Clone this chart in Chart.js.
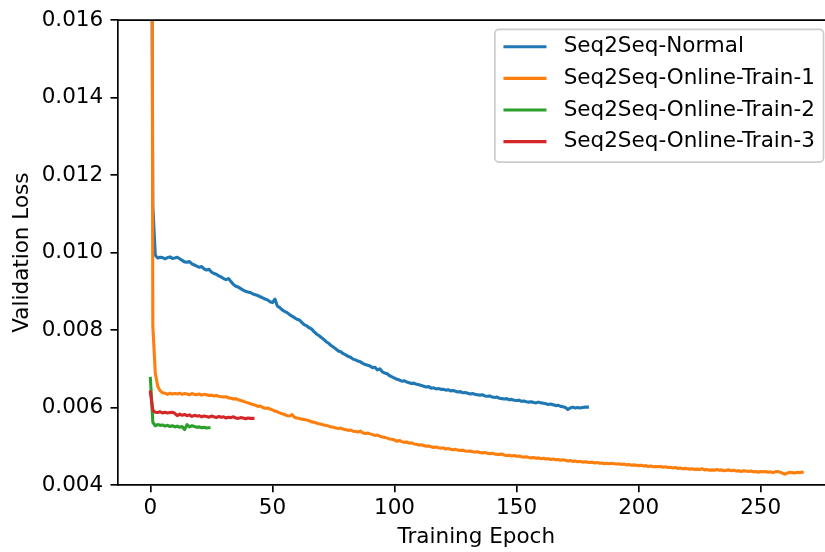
<!DOCTYPE html>
<html>
<head>
<meta charset="utf-8">
<title>Validation Loss</title>
<script src="https://cdn.jsdelivr.net/npm/chart.js@4.4.1/dist/chart.umd.min.js"></script>
<style>
  html, body { margin: 0; padding: 0; background: #fff; overflow: hidden; }
  #wrap { width: 825px; height: 552px; overflow: hidden; }
  canvas { display: block; }
</style>
</head>
<body>
<div id="wrap"><canvas id="lossChart" width="845" height="552"></canvas></div>
<script>
// validation loss, one value per training epoch (epoch 0 first)
const normalLoss = [
  0.03000, 0.01120, 0.00993, 0.00986, 0.00988, 0.00987, 0.00984, 0.00987, 0.00989, 0.00985,
  0.00986, 0.00988, 0.00984, 0.00980, 0.00976, 0.00975, 0.00977, 0.00971, 0.00968, 0.00965,
  0.00962, 0.00964, 0.00958, 0.00955, 0.00957, 0.00950, 0.00946, 0.00944, 0.00940, 0.00937,
  0.00933, 0.00930, 0.00933, 0.00925, 0.00918, 0.00913, 0.00911, 0.00907, 0.00903, 0.00900,
  0.00898, 0.00897, 0.00893, 0.00891, 0.00889, 0.00886, 0.00883, 0.00880, 0.00878, 0.00873,
  0.00871, 0.00880, 0.00862, 0.00858, 0.00852, 0.00848, 0.00845, 0.00840, 0.00836, 0.00832,
  0.00828, 0.00826, 0.00820, 0.00814, 0.00811, 0.00806, 0.00803, 0.00796, 0.00790, 0.00786,
  0.00781, 0.00776, 0.00770, 0.00766, 0.00760, 0.00756, 0.00751, 0.00746, 0.00744, 0.00739,
  0.00736, 0.00732, 0.00730, 0.00725, 0.00723, 0.00720, 0.00718, 0.00714, 0.00711, 0.00709,
  0.00707, 0.00703, 0.00704, 0.00697, 0.00700, 0.00692, 0.00689, 0.00687, 0.00682, 0.00679,
  0.00676, 0.00673, 0.00671, 0.00668, 0.00669, 0.00666, 0.00664, 0.00662, 0.00663, 0.00660,
  0.00659, 0.00657, 0.00655, 0.00653, 0.00654, 0.00650, 0.00651, 0.00648, 0.00649, 0.00647,
  0.00647, 0.00645, 0.00646, 0.00643, 0.00644, 0.00642, 0.00640, 0.00641, 0.00638, 0.00639,
  0.00637, 0.00635, 0.00636, 0.00634, 0.00633, 0.00632, 0.00633, 0.00630, 0.00629, 0.00630,
  0.00627, 0.00626, 0.00627, 0.00624, 0.00623, 0.00622, 0.00623, 0.00620, 0.00621, 0.00619,
  0.00618, 0.00619, 0.00616, 0.00617, 0.00615, 0.00614, 0.00615, 0.00613, 0.00612, 0.00614,
  0.00612, 0.00611, 0.00610, 0.00608, 0.00609, 0.00607, 0.00605, 0.00606, 0.00603, 0.00602,
  0.00600, 0.00595, 0.00599, 0.00601, 0.00599, 0.00600, 0.00599, 0.00600, 0.00601, 0.00601
];

const online1Loss = [
  0.04000, 0.00810, 0.00690, 0.00655, 0.00643, 0.00638, 0.00637, 0.00634, 0.00637, 0.00635,
  0.00636, 0.00635, 0.00637, 0.00634, 0.00636, 0.00635, 0.00633, 0.00636, 0.00634, 0.00633,
  0.00635, 0.00632, 0.00634, 0.00633, 0.00631, 0.00632, 0.00630, 0.00631, 0.00629, 0.00628,
  0.00627, 0.00628, 0.00625, 0.00624, 0.00622, 0.00623, 0.00620, 0.00618, 0.00616, 0.00614,
  0.00612, 0.00610, 0.00608, 0.00606, 0.00603, 0.00604, 0.00600, 0.00598, 0.00599, 0.00596,
  0.00594, 0.00591, 0.00589, 0.00586, 0.00584, 0.00582, 0.00579, 0.00578, 0.00582, 0.00575,
  0.00573, 0.00572, 0.00570, 0.00569, 0.00568, 0.00566, 0.00563, 0.00562, 0.00560, 0.00558,
  0.00557, 0.00555, 0.00554, 0.00552, 0.00550, 0.00549, 0.00547, 0.00546, 0.00547, 0.00544,
  0.00543, 0.00541, 0.00542, 0.00539, 0.00538, 0.00537, 0.00539, 0.00535, 0.00533, 0.00534,
  0.00532, 0.00530, 0.00528, 0.00529, 0.00526, 0.00524, 0.00523, 0.00521, 0.00519, 0.00518,
  0.00516, 0.00513, 0.00515, 0.00512, 0.00510, 0.00511, 0.00508, 0.00509, 0.00506, 0.00505,
  0.00503, 0.00504, 0.00502, 0.00500, 0.00501, 0.00499, 0.00497, 0.00498, 0.00496, 0.00495,
  0.00496, 0.00493, 0.00494, 0.00492, 0.00491, 0.00492, 0.00490, 0.00489, 0.00490, 0.00488,
  0.00487, 0.00488, 0.00486, 0.00485, 0.00486, 0.00484, 0.00483, 0.00484, 0.00482, 0.00481,
  0.00482, 0.00480, 0.00479, 0.00479, 0.00480, 0.00477, 0.00476, 0.00477, 0.00475, 0.00476,
  0.00474, 0.00475, 0.00473, 0.00472, 0.00473, 0.00471, 0.00470, 0.00471, 0.00469, 0.00470,
  0.00468, 0.00469, 0.00467, 0.00468, 0.00466, 0.00467, 0.00465, 0.00466, 0.00464, 0.00465,
  0.00464, 0.00462, 0.00463, 0.00461, 0.00462, 0.00460, 0.00461, 0.00459, 0.00460, 0.00459,
  0.00458, 0.00459, 0.00457, 0.00458, 0.00456, 0.00457, 0.00455, 0.00456, 0.00455, 0.00456,
  0.00455, 0.00454, 0.00455, 0.00453, 0.00454, 0.00452, 0.00453, 0.00451, 0.00452, 0.00451,
  0.00450, 0.00451, 0.00449, 0.00450, 0.00448, 0.00449, 0.00447, 0.00448, 0.00447, 0.00448,
  0.00446, 0.00447, 0.00445, 0.00446, 0.00444, 0.00445, 0.00443, 0.00444, 0.00442, 0.00443,
  0.00442, 0.00441, 0.00442, 0.00440, 0.00441, 0.00440, 0.00442, 0.00439, 0.00440, 0.00438,
  0.00439, 0.00438, 0.00440, 0.00438, 0.00439, 0.00437, 0.00438, 0.00439, 0.00437, 0.00438,
  0.00436, 0.00437, 0.00435, 0.00437, 0.00436, 0.00435, 0.00436, 0.00434, 0.00435, 0.00433,
  0.00435, 0.00434, 0.00435, 0.00433, 0.00434, 0.00432, 0.00434, 0.00435, 0.00433, 0.00430,
  0.00428, 0.00431, 0.00433, 0.00432, 0.00431, 0.00433, 0.00432, 0.00433
];

const online2Loss = [
  0.00675, 0.00562, 0.00553, 0.00556, 0.00554, 0.00555, 0.00552, 0.00554, 0.00551, 0.00553,
  0.00550, 0.00552, 0.00549, 0.00551, 0.00543, 0.00556, 0.00550, 0.00553, 0.00551, 0.00549,
  0.00550, 0.00548, 0.00549, 0.00547, 0.00548
];

const online3Loss = [
  0.00640, 0.00593, 0.00588, 0.00587, 0.00589, 0.00586, 0.00588, 0.00586, 0.00587, 0.00588,
  0.00585, 0.00579, 0.00583, 0.00580, 0.00582, 0.00579, 0.00581, 0.00577, 0.00580, 0.00578,
  0.00579, 0.00576, 0.00578, 0.00577, 0.00575, 0.00578, 0.00576, 0.00574, 0.00577, 0.00575,
  0.00576, 0.00573, 0.00575, 0.00574, 0.00576, 0.00573, 0.00572, 0.00574, 0.00573, 0.00571,
  0.00573, 0.00572, 0.00572
];

const seriesNames = ['Seq2Seq-Normal', 'Seq2Seq-Online-Train-1', 'Seq2Seq-Online-Train-2', 'Seq2Seq-Online-Train-3'];
const xTicks = [0, 50, 100, 150, 200, 250];
const yTicks = [0.004, 0.006, 0.008, 0.010, 0.012, 0.014, 0.016];

const lineColors = ['#1f77b4', '#ff7f0e', '#2ca02c', '#d62728'];
const FONT = 'DejaVu Sans';
const FONT_SIZE = 21.5;
const AXIS_W = 1.67;

function toPoints(values) {
  return values.map((v, i) => ({ x: i, y: v }));
}

// spines on top/right plus a boxed legend in the upper right corner
const frameAndLegend = {
  id: 'frameAndLegend',
  afterDraw(chart) {
    const ctx = chart.ctx;
    const a = chart.chartArea;
    ctx.save();
    ctx.strokeStyle = '#000';
    ctx.lineWidth = AXIS_W;
    ctx.beginPath();
    ctx.moveTo(a.left, a.top);
    ctx.lineTo(a.right, a.top);
    ctx.lineTo(a.right, a.bottom);
    ctx.stroke();

    const sets = chart.data.datasets;
    ctx.font = FONT_SIZE + 'px "' + FONT + '"';
    const textW = Math.max(...sets.map(d => ctx.measureText(d.label).width));
    const pad = 8.6, handle = 43, gap = 17.2, rowH = 31.6;
    const right = 823.5, top = 29.3;
    const w = pad + handle + gap + textW + pad;
    const h = 38 + rowH * (sets.length - 1);
    const left = right - w;

    ctx.beginPath();
    ctx.roundRect(left, top, w, h, 4);
    ctx.fillStyle = 'rgba(255,255,255,0.8)';
    ctx.fill();
    ctx.strokeStyle = '#cccccc';
    ctx.lineWidth = AXIS_W;
    ctx.stroke();

    ctx.textBaseline = 'middle';
    ctx.textAlign = 'left';
    sets.forEach((d, i) => {
      const y = top + 17.5 + i * rowH;
      ctx.strokeStyle = d.borderColor;
      ctx.lineWidth = 3.1;
      ctx.beginPath();
      ctx.moveTo(left + pad, y);
      ctx.lineTo(left + pad + handle, y);
      ctx.stroke();
      ctx.fillStyle = '#000';
      ctx.fillText(d.label, left + pad + handle + gap, y);
    });
    ctx.restore();
  }
};

const seriesValues = [normalLoss, online1Loss, online2Loss, online3Loss];

new Chart(document.getElementById('lossChart'), {
  type: 'line',
  data: {
    datasets: seriesValues.map((vals, i) => ({
      label: seriesNames[i],
      data: toPoints(vals),
      borderColor: lineColors[i],
      borderWidth: 3.1,
      pointRadius: 0,
      tension: 0,
      fill: false,
      borderJoinStyle: 'round',
      borderCapStyle: 'square',
      clip: 0,
      order: seriesValues.length - i
    }))
  },
  options: {
    responsive: false,
    devicePixelRatio: 1,
    animation: false,
    layout: { padding: { left: 0, top: 18.3, right: 10.2, bottom: 0 } },
    plugins: {
      legend: { display: false },
      tooltip: { enabled: false }
    },
    scales: {
      x: {
        type: 'linear',
        min: -13.35,
        max: 280.35,
        afterBuildTicks: scale => { scale.ticks = xTicks.map(v => ({ value: v })); },
        afterFit: scale => { scale.height = 67; },
        ticks: {
          color: '#000',
          font: { family: FONT, size: FONT_SIZE },
          padding: 3.6,
          maxRotation: 0,
          callback: v => String(v)
        },
        grid: { drawOnChartArea: false, color: '#000', lineWidth: AXIS_W, tickLength: 7.3 },
        border: { display: true, color: '#000', width: AXIS_W },
        title: {
          display: true,
          text: 'Training Epoch',
          color: '#000',
          font: { family: FONT, size: FONT_SIZE },
          padding: { top: 0, bottom: 1.5 }
        }
      },
      y: {
        type: 'linear',
        min: 0.004,
        max: 0.016,
        afterBuildTicks: scale => { scale.ticks = yTicks.map(v => ({ value: v })); },
        afterFit: scale => { scale.width = 117.8; },
        ticks: {
          color: '#000',
          font: { family: FONT, size: FONT_SIZE },
          padding: 7.3,
          callback: v => v.toFixed(3)
        },
        grid: { drawOnChartArea: false, color: '#000', lineWidth: AXIS_W, tickLength: 7.3 },
        border: { display: true, color: '#000', width: AXIS_W },
        title: {
          display: true,
          text: 'Validation Loss',
          color: '#000',
          font: { family: FONT, size: FONT_SIZE },
          padding: { top: 10, bottom: 0 }
        }
      }
    }
  },
  plugins: [frameAndLegend]
});
</script>
</body>
</html>
